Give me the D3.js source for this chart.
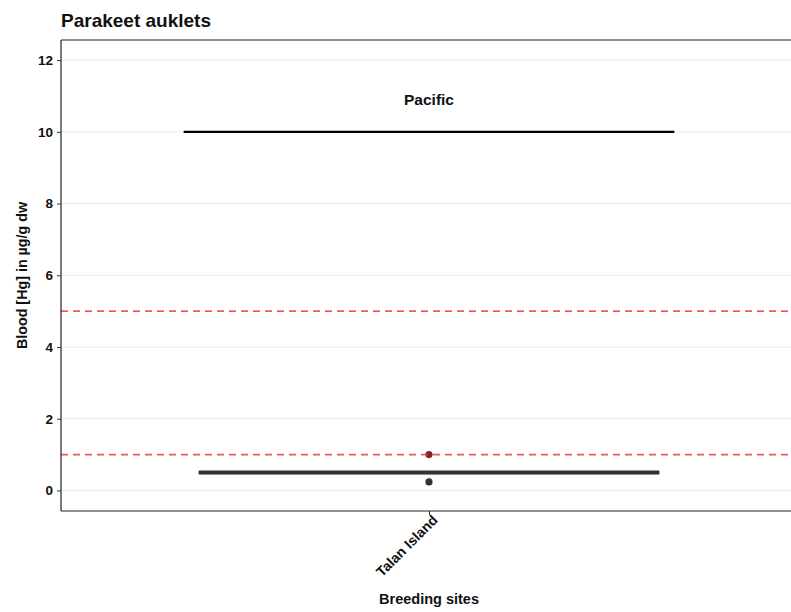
<!DOCTYPE html>
<html><head><meta charset="utf-8">
<script src="https://cdn.jsdelivr.net/npm/d3@7"></script>
<style>body{margin:0;background:#fff;font-family:"Liberation Sans",Arial,sans-serif;}</style>
</head><body>
<svg id="c" width="791" height="612"></svg>
<script>
const categories = ["Talan Island"];
const boxQ1 = [0.47];
const boxMedian = [0.5];
const boxQ3 = [0.53];
const boxLow = [0.47];
const boxHigh = [0.53];
const outliers = [[1.0, 0.24]];
const thresholds = [1, 5];
const refValue = 10;
const refLabel = "Pacific";
const yTicks = [0, 2, 4, 6, 8, 10, 12];

const FONT = "Liberation Sans, Arial, sans-serif";
const svg = d3.select("#c");
const L = 61, R = 797, T = 40, B = 511;
const x = d3.scaleLinear().domain([0.4, categories.length + 0.6]).range([L, R]);
const y = d3.scaleLinear().domain([-0.572, 12.56]).range([B, T]);

// grid
svg.append("g").selectAll("line").data(yTicks).join("line")
  .attr("x1", L).attr("x2", R).attr("y1", d => y(d)).attr("y2", d => y(d))
  .attr("stroke", "#ebebeb").attr("stroke-width", 1.1);

// reference line
svg.append("line").attr("x1", x(0.6)).attr("x2", x(1.4))
  .attr("y1", y(refValue)).attr("y2", y(refValue))
  .attr("stroke", "#000").attr("stroke-width", 2.3);
svg.append("text").attr("x", x(1)).attr("y", y(refValue) - 27)
  .attr("text-anchor", "middle").attr("font-size", 15.5).attr("font-weight", "bold")
  .attr("font-family", FONT).attr("fill", "#111").text(refLabel);

// boxes
categories.forEach((c, i) => {
  const cx = x(i + 1), hw = x(i + 1.375) - cx;
  svg.append("line").attr("x1", cx).attr("x2", cx).attr("y1", y(boxLow[i])).attr("y2", y(boxHigh[i]))
    .attr("stroke", "#333").attr("stroke-width", 1);
  svg.append("rect").attr("x", cx - hw).attr("width", 2 * hw)
    .attr("y", y(boxQ3[i])).attr("height", Math.max(0.1, y(boxQ1[i]) - y(boxQ3[i])))
    .attr("fill", "#fff").attr("stroke", "#444").attr("stroke-width", 1);
  svg.append("line").attr("x1", cx - hw).attr("x2", cx + hw)
    .attr("y1", y(boxMedian[i])).attr("y2", y(boxMedian[i]))
    .attr("stroke", "#333").attr("stroke-width", 4);
  svg.append("g").selectAll("circle").data(outliers[i]).join("circle")
    .attr("cx", cx).attr("cy", d => y(d)).attr("r", 3.6)
    .attr("fill", d => thresholds.includes(d) ? "#7e2626" : "#333");
});

// thresholds
svg.append("g").selectAll("line").data(thresholds).join("line")
  .attr("x1", L).attr("x2", R).attr("y1", d => y(d)).attr("y2", d => y(d))
  .attr("stroke", "#f0302f").attr("stroke-opacity", 0.8).attr("stroke-width", 1.6)
  .attr("stroke-dasharray", "7,5");

// panel border
svg.append("line").attr("x1", L).attr("x2", R).attr("y1", T).attr("y2", T).attr("stroke", "#222").attr("stroke-width", 1.2);

// axes
const ya = svg.append("g").attr("transform", `translate(${L},0)`)
  .call(d3.axisLeft(y).tickValues(yTicks).tickSize(4).tickPadding(4));
ya.select(".domain").attr("d", `M0,${T}V${B}`).attr("stroke", "#222").attr("stroke-width", 1.2);
ya.selectAll("text").attr("font-size", 13.5).attr("font-weight", "bold").attr("fill", "#111")
  .attr("font-family", FONT);
ya.selectAll(".tick line").attr("stroke", "#333");

const xa = svg.append("g").attr("transform", `translate(0,${B})`)
  .call(d3.axisBottom(x).tickValues(categories.map((c, i) => i + 1)).tickFormat((d) => categories[d - 1]).tickSize(4));
xa.select(".domain").attr("d", `M${L},0H${R}`).attr("stroke", "#222").attr("stroke-width", 1.2);
xa.selectAll(".tick line").attr("stroke", "#333");
xa.selectAll("text").attr("font-size", 14).attr("font-weight", "bold").attr("fill", "#111")
  .attr("font-family", FONT)
  .attr("text-anchor", "end").attr("dy", null).attr("y", 0)
  .attr("transform", "translate(9,10) rotate(-45)");

// titles
svg.append("text").attr("x", L).attr("y", 27).attr("font-size", 19).attr("font-weight", "bold")
  .attr("font-family", FONT).attr("fill", "#111").text("Parakeet auklets");
svg.append("text").attr("transform", `translate(27,${(T + B) / 2}) rotate(-90)`)
  .attr("text-anchor", "middle").attr("font-size", 14.3).attr("font-weight", "bold").attr("fill", "#111")
  .attr("font-family", FONT).text("Blood [Hg] in µg/g dw");
svg.append("text").attr("x", x(1)).attr("y", 604).attr("text-anchor", "middle")
  .attr("font-size", 14.5).attr("font-weight", "bold").attr("fill", "#111")
  .attr("font-family", FONT).text("Breeding sites");
</script>
</body></html>
